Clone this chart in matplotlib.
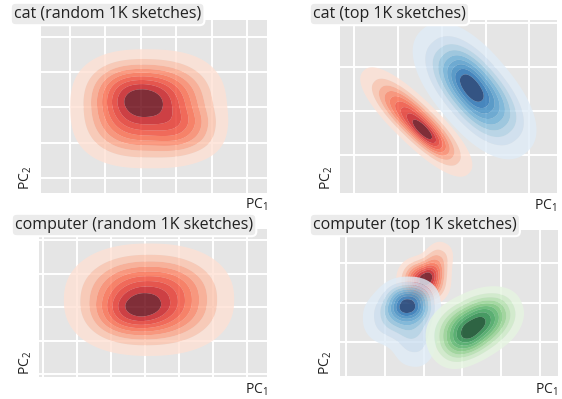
import numpy as np
import matplotlib
matplotlib.use("Agg")
import matplotlib.pyplot as plt

plt.rcParams['font.family'] = ['Open Sans', 'DejaVu Sans']
plt.rcParams['mathtext.fontset'] = 'custom'
plt.rcParams['mathtext.rm'] = 'Open Sans'

# ---------------- data ----------------
titles = ["cat (random 1K sketches)", "cat (top 1K sketches)",
          "computer (random 1K sketches)", "computer (top 1K sketches)"]

# axis limits in grid units (gridlines at integers)
xlims = [(-0.82, 5.56), (-0.32, 4.63), (-0.12, 6.59), (-0.15, 5.46)]
ylims = [(-0.43, 4.48), (-0.875, 3.06), (-0.09, 4.33), (-0.86, 2.84)]

# density components of each cluster:
# centre x, centre y, spread along major, spread along minor, angle (deg), peak weight, profile exponent
cat_random_red_cx = [2.22, 1.85, 3.40]
cat_random_red_cy = [1.95, 2.35, 1.35]
cat_random_red_s1 = [1.14, 0.75, 0.55]
cat_random_red_s2 = [0.87, 0.55, 0.45]
cat_random_red_ang = [0, 0, 0]
cat_random_red_w = [1.0, 0.30, 0.15]
cat_random_red_p = [2.6, 2.4, 2.4]

cat_top_red_cx = [1.42, 1.65]
cat_top_red_cy = [0.74, 0.45]
cat_top_red_s1 = [0.80, 0.38]
cat_top_red_s2 = [0.24, 0.13]
cat_top_red_ang = [-44, -44]
cat_top_red_w = [1.0, 0.35]
cat_top_red_p = [2.3, 2.3]

cat_top_blue_cx = [2.75, 2.62]
cat_top_blue_cy = [1.45, 1.58]
cat_top_blue_s1 = [0.87, 0.45]
cat_top_blue_s2 = [0.42, 0.22]
cat_top_blue_ang = [-50, -55]
cat_top_blue_w = [1.0, 0.25]
cat_top_blue_p = [2.3, 2.3]

comp_random_red_cx = [3.12, 2.65]
comp_random_red_cy = [2.22, 1.82]
comp_random_red_s1 = [1.18, 0.70]
comp_random_red_s2 = [0.79, 0.45]
comp_random_red_ang = [0, 0]
comp_random_red_w = [1.0, 0.25]
comp_random_red_p = [2.3, 2.3]

comp_top_red_cx = [2.00, 2.30]
comp_top_red_cy = [1.55, 1.95]
comp_top_red_s1 = [0.33, 0.35]
comp_top_red_s2 = [0.30, 0.22]
comp_top_red_ang = [0, 65]
comp_top_red_w = [1.0, 0.35]
comp_top_red_p = [2.3, 2.3]

comp_top_blue_cx = [1.62, 1.30, 1.80]
comp_top_blue_cy = [0.98, 0.60, 0.05]
comp_top_blue_s1 = [0.38, 0.50, 0.45]
comp_top_blue_s2 = [0.32, 0.40, 0.35]
comp_top_blue_ang = [0, 0, 80]
comp_top_blue_w = [1.0, 0.35, 0.22]
comp_top_blue_p = [2.3, 2.3, 2.3]

comp_top_green_cx = [3.30, 3.00, 3.80]
comp_top_green_cy = [0.42, 0.00, 0.75]
comp_top_green_s1 = [0.60, 0.42, 0.40]
comp_top_green_s2 = [0.40, 0.32, 0.28]
comp_top_green_ang = [25, 30, 20]
comp_top_green_w = [1.0, 0.3, 0.2]
comp_top_green_p = [2.3, 2.3, 2.3]

panels = [
    [("Reds", cat_random_red_cx, cat_random_red_cy, cat_random_red_s1, cat_random_red_s2,
      cat_random_red_ang, cat_random_red_w, cat_random_red_p)],
    [("Reds", cat_top_red_cx, cat_top_red_cy, cat_top_red_s1, cat_top_red_s2,
      cat_top_red_ang, cat_top_red_w, cat_top_red_p),
     ("Blues", cat_top_blue_cx, cat_top_blue_cy, cat_top_blue_s1, cat_top_blue_s2,
      cat_top_blue_ang, cat_top_blue_w, cat_top_blue_p)],
    [("Reds", comp_random_red_cx, comp_random_red_cy, comp_random_red_s1, comp_random_red_s2,
      comp_random_red_ang, comp_random_red_w, comp_random_red_p)],
    [("Reds", comp_top_red_cx, comp_top_red_cy, comp_top_red_s1, comp_top_red_s2,
      comp_top_red_ang, comp_top_red_w, comp_top_red_p),
     ("Blues", comp_top_blue_cx, comp_top_blue_cy, comp_top_blue_s1, comp_top_blue_s2,
      comp_top_blue_ang, comp_top_blue_w, comp_top_blue_p),
     ("Greens", comp_top_green_cx, comp_top_green_cy, comp_top_green_s1, comp_top_green_s2,
      comp_top_green_ang, comp_top_green_w, comp_top_green_p)],
]

# ---------------- layout ----------------
W, H = 562, 399
def rect(l, r, t, b):
    return [l / W, (H - b) / H, (r - l) / W, (b - t) / H]

axes_px = [(41, 267, 20, 193), (340, 557, 20, 193), (39, 267, 229, 377), (340, 558, 230, 376)]
title_px = [(14, 14), (313, 14), (15, 225), (313, 225)]
pc1_px = [(268, 205), (557, 206), (268, 390), (558, 390)]
pc2_px = [(26, 190), (327, 190), (26, 375), (326, 375)]
band_cmap_pos = [0.12, 0.22, 0.32, 0.42, 0.50, 0.58, 0.66, 0.76, 1.0]


def density(X, Y, cx, cy, s1, s2, ang, w, p):
    Z = np.zeros_like(X)
    for x0, y0, a, b, t, wt, pe in zip(cx, cy, s1, s2, ang, w, p):
        th = np.deg2rad(t)
        dx, dy = X - x0, Y - y0
        u = dx * np.cos(th) + dy * np.sin(th)
        v = -dx * np.sin(th) + dy * np.cos(th)
        Z += wt * np.exp(-0.5 * (np.abs(u / a) ** pe + np.abs(v / b) ** pe))
    return Z


fig = plt.figure(figsize=(W / 100, H / 100), dpi=100)
fig.patch.set_facecolor("white")

nb = len(band_cmap_pos)
for i in range(4):
    ax = fig.add_axes(rect(*axes_px[i]))
    ax.set_facecolor("#e5e5e5")
    x0, x1 = xlims[i]
    y0, y1 = ylims[i]
    ax.set_xlim(x0, x1)
    ax.set_ylim(y0, y1)
    ax.set_xticks(np.arange(np.ceil(x0), x1 + 1e-9))
    ax.set_yticks(np.arange(np.ceil(y0), y1 + 1e-9))
    ax.grid(True, color="white", linewidth=1.4)
    ax.set_axisbelow(True)
    ax.tick_params(length=0, labelbottom=False, labelleft=False)
    for s in ax.spines.values():
        s.set_visible(False)
    xs = np.linspace(x0, x1, 400)
    ys = np.linspace(y0, y1, 400)
    X, Y = np.meshgrid(xs, ys)
    for cmap, cx, cy, s1, s2, ang, w, p in panels[i]:
        Z = density(X, Y, cx, cy, s1, s2, ang, w, p)
        Z = Z / Z.max()
        lv = np.append(np.linspace(0.05, 1.0, nb + 1)[:-1], 1.01)
        cols = plt.get_cmap(cmap)(band_cmap_pos)
        ax.contourf(X, Y, Z, levels=lv, colors=cols, alpha=0.8, antialiased=True, zorder=2)

    tx, ty = title_px[i]
    fig.text(tx / W, 1 - ty / H, titles[i], fontsize=11.5, color="#222222", ha="left", va="center",
             bbox=dict(boxstyle="round,pad=0.2,rounding_size=0.3", fc="#ebebeb", ec="white", lw=1.5),
             zorder=10)
    px, py = pc1_px[i]
    fig.text(px / W, 1 - py / H, r"PC$_{\mathregular{1}}$", fontsize=10, color="#222222", ha="right", va="center")
    qx, qy = pc2_px[i]
    fig.text(qx / W, 1 - qy / H, r"PC$_{\mathregular{2}}$", fontsize=10, color="#222222", ha="center", va="bottom",
             rotation=90)

fig.savefig("out.png", dpi=100)
